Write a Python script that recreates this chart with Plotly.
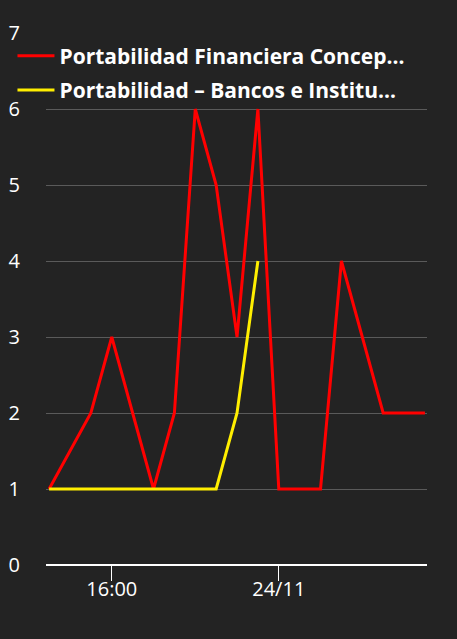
import plotly.graph_objects as go
import pandas as pd

# Hourly timestamps (23/11 13:00 -> 24/11 07:00)
red_times = ["2023-11-23 13:00", "2023-11-23 15:00", "2023-11-23 16:00", "2023-11-23 18:00",
             "2023-11-23 19:00", "2023-11-23 20:00", "2023-11-23 21:00", "2023-11-23 22:00",
             "2023-11-23 23:00", "2023-11-24 00:00", "2023-11-24 02:00", "2023-11-24 03:00",
             "2023-11-24 05:00", "2023-11-24 06:00", "2023-11-24 07:00"]
red_values = [1, 2, 3, 1, 2, 6, 5, 3, 6, 1, 1, 4, 2, 2, 2]

yellow_times = ["2023-11-23 13:00", "2023-11-23 14:00", "2023-11-23 15:00", "2023-11-23 16:00",
                "2023-11-23 17:00", "2023-11-23 18:00", "2023-11-23 19:00", "2023-11-23 20:00",
                "2023-11-23 21:00", "2023-11-23 22:00", "2023-11-23 23:00"]
yellow_values = [1, 1, 1, 1, 1, 1, 1, 1, 1, 2, 4]

series_names = ["Portabilidad Financiera Concep…", "Portabilidad – Bancos e Institu…"]
x_tick_vals = ["2023-11-23 16:00", "2023-11-24 00:00"]
x_tick_text = ["16:00", "24/11"]
y_tick_vals = [0, 1, 2, 3, 4, 5, 6, 7]

BG = "#232323"

fig = go.Figure()
fig.add_trace(go.Scatter(x=pd.to_datetime(red_times), y=red_values, mode="lines",
                         name=series_names[0], legendgroup="a",
                         line=dict(color="#ff0000", width=3)))
fig.add_trace(go.Scatter(x=pd.to_datetime(yellow_times), y=yellow_values, mode="lines",
                         name=series_names[1], legendgroup="b",
                         line=dict(color="#ffee00", width=3)))

fig.update_layout(
    width=457, height=639,
    margin=dict(l=46, r=30, t=33, b=74, autoexpand=False),
    paper_bgcolor=BG, plot_bgcolor=BG,
    font=dict(family="Open Sans", color="#ffffff"),
    showlegend=True,
    legend=dict(x=-0.088, y=0.995, xanchor="left", yanchor="top",
                bgcolor="rgba(0,0,0,0)", tracegroupgap=4, itemwidth=37,
                font=dict(size=21, color="#ffffff", family="Open Sans", weight="bold")),
    xaxis=dict(
        range=[pd.Timestamp("2023-11-23 12:51"), pd.Timestamp("2023-11-24 07:06")],
        tickvals=pd.to_datetime(x_tick_vals), ticktext=x_tick_text,
        ticks="outside", ticklen=15, tickcolor="#ffffff", tickwidth=1,
        ticklabelstandoff=-9,
        showgrid=False, showline=False, zeroline=False, automargin=False,
        tickfont=dict(size=20, color="#ffffff"),
    ),
    yaxis=dict(
        range=[0, 7], tickvals=y_tick_vals,
        showgrid=True, gridcolor="#5a5a5a", gridwidth=1,
        zeroline=True, zerolinecolor="#ffffff", zerolinewidth=2,
        showline=False, ticks="", ticklabelstandoff=25, automargin=False,
        tickfont=dict(size=20, color="#ffffff"),
    ),
)

fig.write_html("out.html", config={"displayModeBar": False},
               post_script="document.body.style.margin='0';document.body.style.background='#232323';")
